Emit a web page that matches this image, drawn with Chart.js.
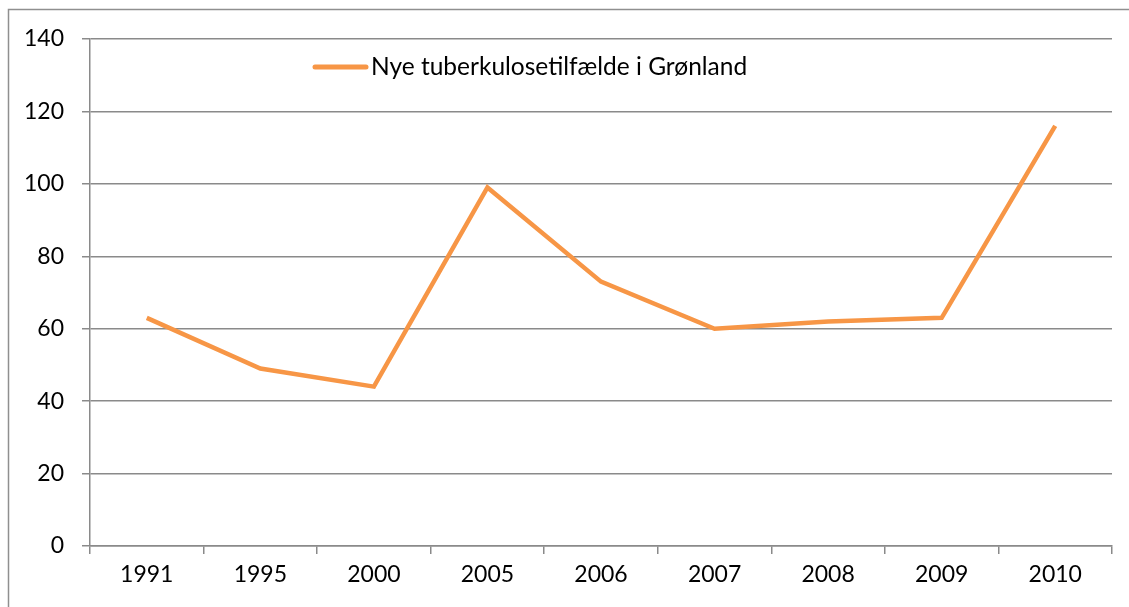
<!DOCTYPE html>
<html>
<head>
<meta charset="utf-8">
<script src="https://cdn.jsdelivr.net/npm/chart.js@4/dist/chart.umd.min.js"></script>
<style>
  html, body { margin: 0; padding: 0; background: #fff; }
  #wrap { width: 1129px; height: 607px; position: relative; }
</style>
</head>
<body>
<div id="wrap"><canvas id="myChart"></canvas></div>
<script>
"use strict";

var years = ["1991", "1995", "2000", "2005", "2006", "2007", "2008", "2009", "2010"];
var cases = [63, 49, 44, 99, 73, 60, 62, 63, 116];
var seriesName = "Nye tuberkulosetilfælde i Grønland";

var fontName = "Lato, 'Open Sans', sans-serif";
var gridGray = "#8a8a8a";
var orange = "#f79646";

// frame round the picture + legend sitting inside the plot
var extras = {
    id: 'extras',
    afterDraw: function (chart) {
        var c = chart.ctx;
        c.save();
        c.strokeStyle = "#8f8f8f";
        c.lineWidth = 1.5;
        c.strokeRect(8.5, 9.5, 1300, 700);

        var ds = chart.data.datasets[0];
        c.strokeStyle = ds.borderColor;
        c.lineWidth = 5;
        c.lineCap = "round";
        c.beginPath();
        c.moveTo(315, 67);
        c.lineTo(366, 67);
        c.stroke();
        c.fillStyle = "#000";
        c.font = "24.5px " + fontName;
        c.textBaseline = "middle";
        c.fillText(ds.label, 371, 67);
        c.restore();
    }
};

var ctx = document.getElementById('myChart').getContext('2d');

var myChart = new Chart(ctx, {
    type: 'line',
    data: {
        labels: years,
        datasets: [{
            label: seriesName,
            data: cases,
            borderColor: orange,
            backgroundColor: orange,
            borderWidth: 4.5,
            pointRadius: 0,
            tension: 0
        }]
    },
    plugins: [extras],
    options: {
        responsive: true,
        maintainAspectRatio: false,
        animation: false,
        layout: { padding: { left: 0, top: 39, right: 17, bottom: 0 } },
        plugins: {
            legend: { display: false },
            tooltip: { enabled: false }
        },
        scales: {
            x: {
                offset: true,
                afterFit: function (s) { s.height = 61; },
                grid: {
                    offset: true,
                    drawOnChartArea: false,
                    drawTicks: true,
                    tickLength: 8,
                    color: gridGray,
                    lineWidth: 1.5
                },
                border: { color: gridGray, width: 1.5 },
                ticks: {
                    color: "#000",
                    padding: 7,
                    font: { family: fontName, size: 23 }
                }
            },
            y: {
                min: 0,
                max: 140,
                afterFit: function (s) { s.width = 90; },
                grid: {
                    color: gridGray,
                    lineWidth: 1.5,
                    tickLength: 8
                },
                border: { color: gridGray, width: 1.5 },
                ticks: {
                    stepSize: 20,
                    color: "#000",
                    padding: 18,
                    font: { family: fontName, size: 23 }
                }
            }
        }
    }
});
</script>
</body>
</html>
